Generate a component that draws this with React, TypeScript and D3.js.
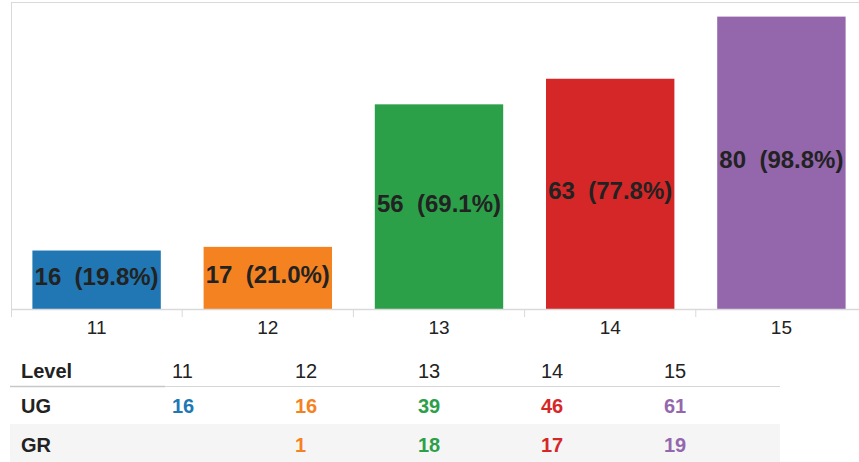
import React from "react";
import * as d3 from "d3";

const levels = ["11", "12", "13", "14", "15"];
const totals = [16, 17, 56, 63, 80];
const percents = ["19.8%", "21.0%", "69.1%", "77.8%", "98.8%"];
const ugValues: (number | null)[] = [16, 16, 39, 46, 61];
const grValues: (number | null)[] = [null, 1, 18, 17, 19];
const colors = ["#2077b4", "#f58220", "#2ca049", "#d62728", "#9467ad"];

const W = 859;
const H = 462;
const FONT = "'Liberation Sans', Arial, sans-serif";

export default function App() {
  const x = d3
    .scaleBand<string>()
    .domain(levels)
    .range([11, 867])
    .paddingInner(0.25)
    .paddingOuter(0.125);
  const step = x.step();
  const y = d3.scaleLinear().domain([0, 84]).range([309, 2]);

  const colX = d3.scalePoint<string>().domain(levels).range([172, 664]);

  const rows = [
    { name: "UG", values: ugValues, y: 413 },
    { name: "GR", values: grValues, y: 452 },
  ];

  return (
    <svg
      width={W}
      height={H}
      style={{ position: "fixed", left: 0, top: 0, background: "#fff" }}
      fontFamily={FONT}
    >
      {/* frame lines */}
      <line x1={11} x2={W} y1={2.5} y2={2.5} stroke="#d9d9d9" strokeWidth={1} />
      <line x1={11.5} x2={11.5} y1={2} y2={317} stroke="#d9d9d9" strokeWidth={1} />
      {/* bars */}
      {levels.map((l, i) => {
        const bx = x(l)!;
        const by = y(totals[i]);
        const bh = y(0) - by;
        return (
          <g key={l}>
            <rect x={bx} y={by} width={x.bandwidth()} height={bh} fill={colors[i]} />
            <text
              x={bx + x.bandwidth() / 2}
              y={by + bh / 2 - 3}
              textAnchor="middle"
              dominantBaseline="central"
              fontSize={24}
              fontWeight="bold"
              fill="#222"
              style={{ whiteSpace: "pre" }}
            >
              {`${totals[i]}  (${percents[i]})`}
            </text>
          </g>
        );
      })}
      {/* x axis */}
      <line x1={11} x2={W} y1={309.5} y2={309.5} stroke="#d9d9d9" strokeWidth={1.5} />
      {levels.map((l, i) => {
        const tx = x(l)! - step * 0.125;
        return (
          <g key={"t" + l}>
            {i > 0 && (
              <line x1={tx} x2={tx} y1={309} y2={317} stroke="#d9d9d9" strokeWidth={1} />
            )}
            <text
              x={x(l)! + x.bandwidth() / 2}
              y={334}
              textAnchor="middle"
              fontSize={19}
              fill="#222"
            >
              {l}
            </text>
          </g>
        );
      })}
      {/* table */}
      <rect x={10} y={424} width={770} height={40} fill="#f5f5f5" />
      <line x1={10} x2={780} y1={386.5} y2={386.5} stroke="#d6d6d6" strokeWidth={1} />
      <line x1={10} x2={165} y1={386.5} y2={386.5} stroke="#c8c8c8" strokeWidth={1.5} />
      <text x={21} y={378} fontSize={20} fontWeight="bold" fill="#222">
        Level
      </text>
      {levels.map((l) => (
        <text key={"h" + l} x={colX(l)} y={378} fontSize={20} fill="#222">
          {l}
        </text>
      ))}
      {rows.map((r) => (
        <g key={r.name}>
          <text x={21} y={r.y} fontSize={20} fontWeight="bold" fill="#222">
            {r.name}
          </text>
          {levels.map((l, i) =>
            r.values[i] == null ? null : (
              <text
                key={r.name + l}
                x={colX(l)}
                y={r.y}
                fontSize={20}
                fontWeight="bold"
                fill={colors[i]}
              >
                {r.values[i]}
              </text>
            )
          )}
        </g>
      ))}
    </svg>
  );
}
